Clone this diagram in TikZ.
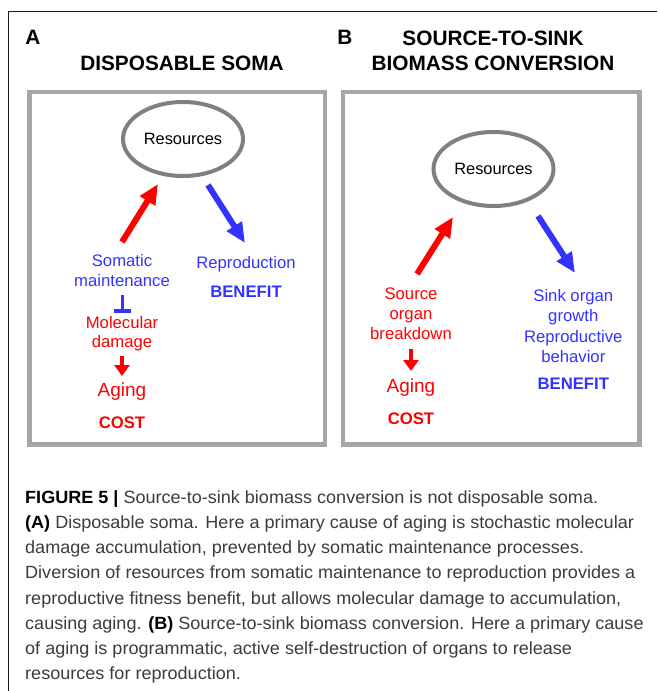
\documentclass[tikz,border=0pt]{standalone}
\usepackage{fontspec}
\setmainfont{Liberation Sans}
\newfontfamily\capfont[FakeStretch=1.02]{Liberation Sans}
\usetikzlibrary{arrows.meta,shapes.geometric}
\definecolor{myred}{HTML}{FF0000}
\definecolor{myblue}{HTML}{3333FF}
\definecolor{boxgray}{HTML}{A6A6A6}
\definecolor{ellgray}{HTML}{808080}
\definecolor{captxt}{HTML}{3C3C3C}
\begin{document}
\begin{tikzpicture}[x=1pt,y=-1pt,
  lbl/.style={inner sep=0pt, anchor=base, font=\fontsize{16.7}{20}\selectfont},
  lblbold/.style={inner sep=0pt, anchor=base, font=\fontsize{16.7}{20}\selectfont\bfseries},
  aging/.style={inner sep=0pt, anchor=base, font=\fontsize{19}{22}\selectfont},
  title/.style={inner sep=0pt, anchor=base, font=\fontsize{20.8}{24}\selectfont\bfseries},
  panelbox/.style={draw=boxgray, line width=4.3pt},
  resnode/.style={draw=ellgray, ellipse, line width=4pt, minimum width=120pt, minimum height=74pt, inner sep=0pt, text=black, font=\fontsize{16.4}{20}\selectfont},
  bigarrow/.style={line width=6pt, -{Triangle[length=20pt,width=17pt]}},
  smallarrow/.style={line width=4pt, -{Triangle[length=11pt,width=15pt]}},
  captext/.style={inner sep=0pt, anchor=base west, text=captxt, font=\capfont\fontsize{17.7}{20}\selectfont},
]
\useasboundingbox (0,0) rectangle (657,691);

% outer frame (top and left)
\draw[line width=1pt, black!90] (8.3,691) -- (8.3,11.5) -- (657,11.5);

% ---------------- Panel A ----------------
\node[title] (labA) at (33,44.3) {A};
\node[title] (titA) at (182,70.5) {DISPOSABLE SOMA};
\draw[panelbox] (29.5,92) rectangle (325,444.5);
\node[resnode] (resA) at (183,139) {Resources};

\coordinate (rA0) at (122,242);
\coordinate (rA1) at (158,184);
\draw[bigarrow, myred] (rA0) -- (rA1);
\coordinate (bA0) at (208,185);
\coordinate (bA1) at (245,243);
\draw[bigarrow, myblue] (bA0) -- (bA1);

\node[lbl, text=myblue] (somA) at (122,266.5) {Somatic};
\node[lbl, text=myblue] (mainA) at (122,286) {maintenance};
\coordinate (tA0) at (122,295);
\coordinate (tA1) at (122,311);
\draw[myblue, line width=3pt] (tA0) -- (tA1);
\coordinate (tAl) at (113.5,311);
\coordinate (tAr) at (130.5,311);
\draw[myblue, line width=3.5pt] (tAl) -- (tAr);
\node[lbl, text=myred] (molA) at (122,328.3) {Molecular};
\node[lbl, text=myred] (damA) at (122,347.8) {damage};
\coordinate (aA0) at (122,356);
\coordinate (aA1) at (122,376);
\draw[smallarrow, myred] (aA0) -- (aA1);
\node[aging, text=myred] (agA) at (122,396) {Aging};
\node[lblbold, text=myred] (costA) at (122,428.3) {COST};

\node[lbl, text=myblue] (repA) at (246,268.3) {Reproduction};
\node[lblbold, text=myblue] (benA) at (246,297.6) {BENEFIT};

% ---------------- Panel B ----------------
\node[title] (labB) at (345,44.3) {B};
\node[title] (titB1) at (493,45) {SOURCE-TO-SINK};
\node[title] (titB2) at (493,70) {BIOMASS CONVERSION};
\draw[panelbox] (343,92) rectangle (639.6,444.5);
\node[resnode] (resB) at (493.5,169) {Resources};

\coordinate (rB0) at (417,274);
\coordinate (rB1) at (453,217);
\draw[bigarrow, myred] (rB0) -- (rB1);
\coordinate (bB0) at (538,216);
\coordinate (bB1) at (575,273);
\draw[bigarrow, myblue] (bB0) -- (bB1);

\node[lbl, text=myred] (srcB) at (411,299.3) {Source};
\node[lbl, text=myred] (orgB) at (411,319) {organ};
\node[lbl, text=myred] (brkB) at (411,339) {breakdown};
\coordinate (aB0) at (411,349);
\coordinate (aB1) at (411,371);
\draw[smallarrow, myred] (aB0) -- (aB1);
\node[aging, text=myred] (agB) at (411,392.7) {Aging};
\node[lblbold, text=myred] (costB) at (411,424.3) {COST};

\node[lbl, text=myblue] (snkB) at (573.3,301.7) {Sink organ};
\node[lbl, text=myblue] (grwB) at (573.3,321.5) {growth};
\node[lbl, text=myblue] (rprB) at (573.3,342.3) {Reproductive};
\node[lbl, text=myblue] (behB) at (573.3,362.5) {behavior};
\node[lblbold, text=myblue] (benB) at (573.3,389.3) {BENEFIT};

% ---------------- Caption ----------------
\node[captext] (c1) at (25,503.3) {\textcolor{black}{\bfseries FIGURE 5 |} Source-to-sink biomass conversion is not disposable soma.};
\node[captext] (c2) at (25,528.5) {\textcolor{black}{\bfseries (A)} Disposable soma. Here a primary cause of aging is stochastic molecular};
\node[captext] (c3) at (25,553.7) {damage accumulation, prevented by somatic maintenance processes.};
\node[captext] (c4) at (25,578.9) {Diversion of resources from somatic maintenance to reproduction provides a};
\node[captext] (c5) at (25,604.1) {reproductive fitness benefit, but allows molecular damage to accumulation,};
\node[captext] (c6) at (25,629.3) {causing aging. \textcolor{black}{\bfseries (B)} Source-to-sink biomass conversion. Here a primary cause};
\node[captext] (c7) at (25,654.5) {of aging is programmatic, active self-destruction of organs to release};
\node[captext] (c8) at (25,679.7) {resources for reproduction.};
\end{tikzpicture}
\end{document}
